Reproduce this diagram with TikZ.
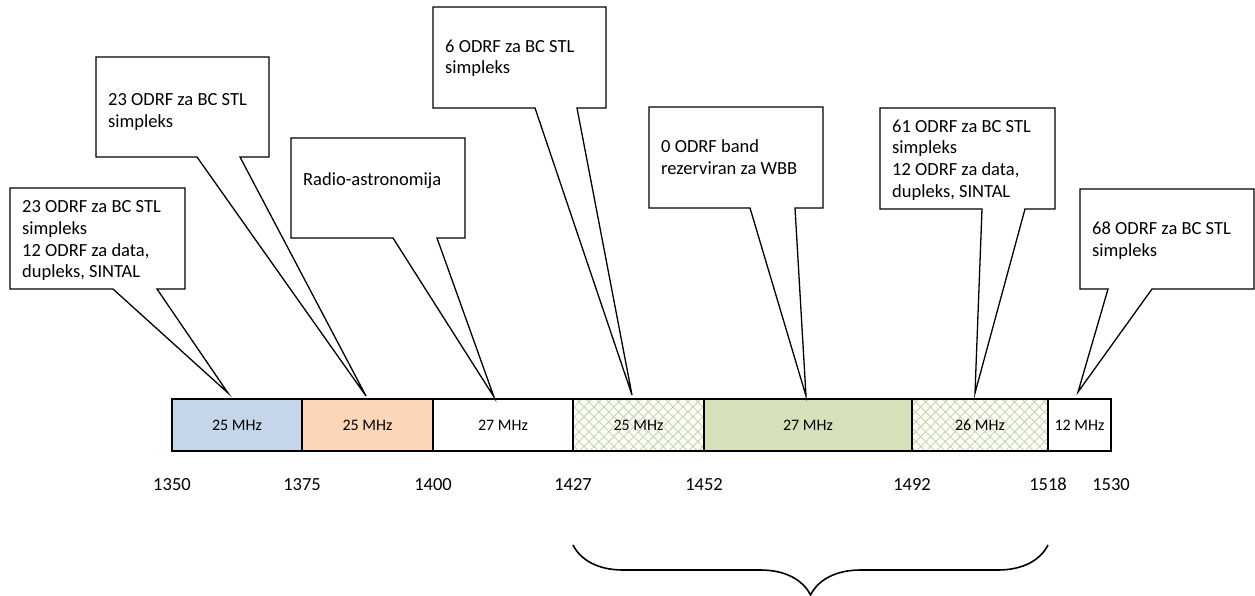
\documentclass[tikz,border=0pt]{standalone}
\usepackage{fontspec}
\setmainfont{Carlito}
\usetikzlibrary{positioning,calc,patterns.meta,decorations.pathreplacing}
\definecolor{bandblue}{RGB}{197,214,234}
\definecolor{bandpeach}{RGB}{251,214,183}
\definecolor{bandgreen}{RGB}{213,226,185}
\definecolor{hatchgreen}{RGB}{196,214,160}

\begin{document}
\begin{tikzpicture}[
  x=1pt, y=-1pt,
  font=\fontsize{18.5pt}{21.7pt}\selectfont,
  seg/.style={rectangle, draw=black, line width=1.3pt, outer sep=0pt, inner sep=0pt,
              minimum height=52pt, font=\fontsize{16pt}{19pt}\selectfont},
  hatch/.style={preaction={pattern={Lines[angle=45,distance=7pt,line width=0.9pt]},
                           pattern color=hatchgreen},
                preaction={pattern={Lines[angle=-45,distance=7pt,line width=0.9pt]},
                           pattern color=hatchgreen}},
  tick/.style={anchor=base, inner sep=0pt},
  note/.style={anchor=north west, inner sep=0pt, align=left, execute at begin node=\strut},
  callout/.style={draw=black, line width=1.3pt, line join=miter},
  brace/.style={draw=black, line width=1.6pt,
                decorate, decoration={brace, mirror, amplitude=50pt}},
]
\useasboundingbox (0,0) rectangle (1255,595);

% Band bar
\node[seg, fill=bandblue, minimum width=130pt] (s1) at (237,425) {25 MHz};
\node[seg, fill=bandpeach, minimum width=131pt, right=0pt of s1] (s2) {25 MHz};
\node[seg, minimum width=140pt, right=0pt of s2] (s3) {27 MHz};
\node[seg, hatch, minimum width=131pt, right=0pt of s3] (s4) {25 MHz};
\node[seg, fill=bandgreen, minimum width=208pt, right=0pt of s4] (s5) {27 MHz};
\node[seg, hatch, minimum width=136pt, right=0pt of s5] (s6) {26 MHz};
\node[seg, minimum width=63pt, right=0pt of s6] (s7) {12 MHz};

% Frequencies
\node[tick] (f1350) at ($(s1.south west)+(0,39)$) {1350};
\node[tick] (f1375) at ($(s1.south east)+(0,39)$) {1375};
\node[tick] (f1400) at ($(s2.south east)+(0,39)$) {1400};
\node[tick] (f1427) at ($(s3.south east)+(0,39)$) {1427};
\node[tick] (f1452) at ($(s4.south east)+(0,39)$) {1452};
\node[tick] (f1492) at ($(s5.south east)+(0,39)$) {1492};
\node[tick] (f1518) at ($(s6.south east)+(0,39)$) {1518};
\node[tick] (f1530) at ($(s7.south east)+(0,39)$) {1530};

% Callout tips
\coordinate (p1) at (228,393);
\coordinate (p2) at (366,396);
\coordinate (p3) at (494,397);
\coordinate (p4) at (632,395);
\coordinate (p5) at (806,396);
\coordinate (p6) at (975,393);
\coordinate (p7) at (1078,392);

% Callouts
\draw[callout] (10,188) -- (185,188) -- (185,289) -- (157,289) -- (p1) -- (113,289) -- (10,289) -- cycle;
\draw[callout] (96,57) -- (269,57) -- (269,157) -- (240,157) -- (p2) -- (197,157) -- (96,157) -- cycle;
\draw[callout] (291,138) -- (465,138) -- (465,238) -- (437,238) -- (p3) -- (393,238) -- (291,238) -- cycle;
\draw[callout] (433,7) -- (606,7) -- (606,108) -- (577,108) -- (p4) -- (535,108) -- (433,108) -- cycle;
\draw[callout] (649,107) -- (823,107) -- (823,208) -- (795,208) -- (p5) -- (750,208) -- (649,208) -- cycle;
\draw[callout] (880,108) -- (1055,108) -- (1055,209) -- (1025,209) -- (p6) -- (982,209) -- (880,209) -- cycle;
\draw[callout] (1080,189) -- (1254,189) -- (1254,289) -- (1152,289) -- (p7) -- (1108,289) -- (1080,289) -- cycle;

\node[note] (n1) at (22,200.5) {23 ODRF za BC STL\\simpleks\\12 ODRF za data,\\dupleks, SINTAL};
\node[note] (n2) at (108,93.5) {23 ODRF za BC STL\\simpleks};
\node[note] (n3) at (303,170.5) {Radio-astronomija};
\node[note] (n4) at (445,39.5) {6 ODRF za BC STL\\simpleks};
\node[note] (n5) at (661,139.5) {0 ODRF band\\rezerviran za WBB};
\node[note] (n6) at (892,119.5) {61 ODRF za BC STL\\simpleks\\12 ODRF za data,\\dupleks, SINTAL};
\node[note] (n7) at (1092,221.5) {68 ODRF za BC STL\\simpleks};

% Brace under the upper part
\coordinate (b1) at ($(s4.south west)+(0,94)$);
\coordinate (b2) at ($(s6.south east)+(0,94)$);
\draw[brace] (b1) -- (b2);
\end{tikzpicture}
\end{document}
